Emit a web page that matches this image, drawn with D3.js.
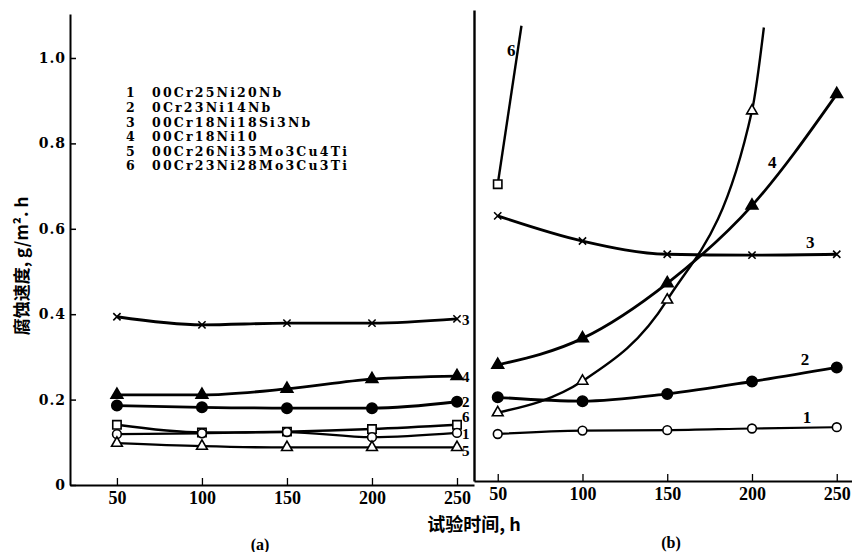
<!DOCTYPE html>
<html>
<head>
<meta charset="utf-8">
<script src="https://cdn.jsdelivr.net/npm/d3@7"></script>
<style>
  body { margin: 0; background: #fff; }
  svg { display: block; }
</style>
</head>
<body>
<div id="chart-area"></div>
<script>
// ---------- data ----------
const hours = [50, 100, 150, 200, 250];
const yTicks = [0, 0.2, 0.4, 0.6, 0.8, 1.0];
const seriesIds = ['1', '2', '3', '4', '5', '6'];
const alloyNames = ['00Cr25Ni20Nb', '0Cr23Ni14Nb', '00Cr18Ni18Si3Nb',
  '00Cr18Ni10', '00Cr26Ni35Mo3Cu4Ti', '00Cr23Ni28Mo3Cu3Ti'];

// panel (a)
const a1 = [0.119, 0.121, 0.124, 0.112, 0.122];
const a2 = [0.186, 0.182, 0.180, 0.180, 0.195];
const a3 = [0.394, 0.375, 0.379, 0.379, 0.389];
const a4 = [0.211, 0.211, 0.225, 0.248, 0.255];
const a5 = [0.098, 0.091, 0.088, 0.088, 0.088];
const a6 = [0.141, 0.123, 0.125, 0.131, 0.141];

// panel (b)
const b1 = [0.110, 0.118, 0.119, 0.123, 0.126];
const b2 = [0.196, 0.187, 0.204, 0.233, 0.266];
const b3 = [0.621, 0.562, 0.531, 0.529, 0.531];
const b4 = [0.272, 0.334, 0.463, 0.645, 0.906];
const b5 = [0.160, 0.234, 0.424, 0.867];   // 50..200 h, then off the chart
const b5Tail = [207, 1.062];
const b6 = [0.695];                         // only 50 h, then off the chart
const b6Tail = [64, 1.066];

// curve number annotations (data units)
const labelsA = [['3', 253, 0.386], ['4', 253, 0.254], ['2', 253, 0.194],
  ['6', 253, 0.160], ['1', 253, 0.121], ['5', 253, 0.080]];
const labelsB = [['6', 55.5, 1.009], ['4', 209.4, 0.747], ['3', 231.8, 0.560],
  ['2', 228.8, 0.286], ['1', 230, 0.150]];

// ---------- canvas ----------
const W = 852, H = 552;
const svg = d3.select('#chart-area').append('svg')
  .attr('width', W).attr('height', H);

const xA = d3.scaleLinear().domain([22.4, 260]).range([70, 474]);
const xB = d3.scaleLinear().domain([36, 259]).range([474, 852]);
const yA = d3.scaleLinear().domain([0, 1.103]).range([485, 14]);
const yB = d3.scaleLinear().domain([0, 1.103]).range([481, 10]);

const serif = '"Liberation Serif", serif';
const wideSerif = '"DejaVu Serif", serif';
const cjk = '"Noto Sans CJK SC", sans-serif';

const markerType = {
  '1': { sym: d3.symbolCircle, size: 60, fill: '#fff' },
  '2': { sym: d3.symbolCircle, size: 85, fill: '#000' },
  '3': { sym: d3.symbolTimes, size: 36, fill: 'none' },
  '4': { sym: d3.symbolTriangle, size: 60, fill: '#000' },
  '5': { sym: d3.symbolTriangle, size: 50, fill: '#fff' },
  '6': { sym: d3.symbolSquare, size: 70, fill: '#fff' }
};
const lineWidth = { '1': 2.2, '2': 2.8, '3': 2.8, '4': 2.8, '5': 2.4, '6': 2.4 };

function drawSeries(x, y, id, vals, tail) {
  let pts = vals.map((v, i) => [hours[i], v]);
  let linePts = tail ? pts.concat([tail]) : pts;
  let line = d3.line()
    .x(d => x(d[0])).y(d => y(d[1]))
    .curve(d3.curveMonotoneX);
  svg.append('path')
    .attr('d', line(linePts))
    .attr('fill', 'none')
    .attr('stroke', '#000')
    .attr('stroke-width', lineWidth[id]);
  let m = markerType[id];
  svg.selectAll(null)
    .data(pts)
    .enter()
    .append('path')
      .attr('transform', d => 'translate(' + x(d[0]) + ',' + y(d[1]) + ')')
      .attr('d', d3.symbol().type(m.sym).size(m.size))
      .attr('fill', m.fill)
      .attr('stroke', '#000')
      .attr('stroke-width', 1.6);
}

// ---------- axes ----------
let yAxis = d3.axisLeft(yA).tickValues(yTicks)
  .tickSize(-6).tickSizeOuter(0).tickPadding(4)
  .tickFormat(d => d === 0 ? '0' : d3.format('.1f')(d));
let gy = svg.append('g').attr('transform', 'translate(70,0)').call(yAxis);
gy.selectAll('.tick text')
  .attr('font-family', wideSerif)
  .attr('font-weight', 'bold')
  .attr('font-size', 14).attr('letter-spacing', 1);
gy.select('.domain').attr('stroke-width', 2);
gy.selectAll('.tick line').attr('stroke-width', 1.5);

let xAxisA = d3.axisBottom(xA).tickValues(hours)
  .tickSize(-7).tickSizeOuter(0).tickPadding(6);
let gxa = svg.append('g').attr('transform', 'translate(0,485)').call(xAxisA);

let xAxisB = d3.axisBottom(xB).tickValues(hours)
  .tickSize(-7).tickSizeOuter(0).tickPadding(6);
let gxb = svg.append('g').attr('transform', 'translate(0,481)').call(xAxisB);
[gxa, gxb].forEach(g => {
  g.select('.domain').attr('stroke-width', 2);
  g.selectAll('.tick line').attr('stroke-width', 1.3);
  g.selectAll('.tick text')
    .attr('font-family', serif)
    .attr('font-weight', 'bold')
    .attr('font-size', 18);
});

// divider / y axis of panel (b)
let gyb = svg.append('g').attr('transform', 'translate(474,0)')
  .call(d3.axisLeft(yB).tickValues([]).tickSizeOuter(0));
gyb.select('.domain').attr('stroke-width', 2.4);

// ---------- series ----------
drawSeries(xA, yA, '3', a3);
drawSeries(xA, yA, '4', a4);
drawSeries(xA, yA, '2', a2);
drawSeries(xA, yA, '6', a6);
drawSeries(xA, yA, '1', a1);
drawSeries(xA, yA, '5', a5);

drawSeries(xB, yB, '6', b6, b6Tail);
drawSeries(xB, yB, '3', b3);
drawSeries(xB, yB, '4', b4);
drawSeries(xB, yB, '5', b5, b5Tail);
drawSeries(xB, yB, '2', b2);
drawSeries(xB, yB, '1', b1);

// curve numbers
function addLabels(x, y, list, size) {
  svg.selectAll(null)
    .data(list)
    .enter()
    .append('text')
      .attr('x', d => x(d[1]))
      .attr('y', d => y(d[2]))
      .attr('dy', '0.35em')
      .attr('font-family', serif)
      .attr('font-weight', 'bold')
      .attr('font-size', size)
      .text(d => d[0]);
}
addLabels(xA, yA, labelsA, 15);
addLabels(xB, yB, labelsB, 17);

// ---------- legend ----------
let legend = svg.append('g').attr('transform', 'translate(126,93)');
seriesIds.forEach((id, i) => {
  legend.append('text')
    .attr('x', 0).attr('y', i * 14.6).attr('dy', '0.35em')
    .attr('font-family', wideSerif)
    .attr('font-weight', 'bold').attr('font-size', 12.5)
    .text(id);
  legend.append('text')
    .attr('x', 26).attr('y', i * 14.6).attr('dy', '0.35em')
    .attr('font-family', wideSerif)
    .attr('font-weight', 'bold').attr('font-size', 12.5)
    .attr('letter-spacing', 2.2)
    .text(alloyNames[i]);
});

// ---------- titles ----------
svg.append('text')
  .attr('transform', 'translate(22,266) rotate(-90)')
  .attr('text-anchor', 'middle')
  .attr('dy', '0.35em')
  .attr('font-family', cjk)
  .attr('font-weight', 'bold')
  .attr('font-size', 17)
  .text('腐蚀速度, g/m². h');

svg.append('text')
  .attr('x', 474).attr('y', 525).attr('dy', '0.35em')
  .attr('text-anchor', 'middle')
  .attr('font-family', cjk)
  .attr('font-weight', 'bold')
  .attr('font-size', 18)
  .text('试验时间, h');

svg.append('text')
  .attr('x', 260).attr('y', 544).attr('dy', '0.35em')
  .attr('text-anchor', 'middle')
  .attr('font-family', serif)
  .attr('font-weight', 'bold')
  .attr('font-size', 16)
  .text('(a)');

svg.append('text')
  .attr('x', 671).attr('y', 542).attr('dy', '0.35em')
  .attr('text-anchor', 'middle')
  .attr('font-family', serif)
  .attr('font-weight', 'bold')
  .attr('font-size', 16)
  .text('(b)');
</script>
</body>
</html>
